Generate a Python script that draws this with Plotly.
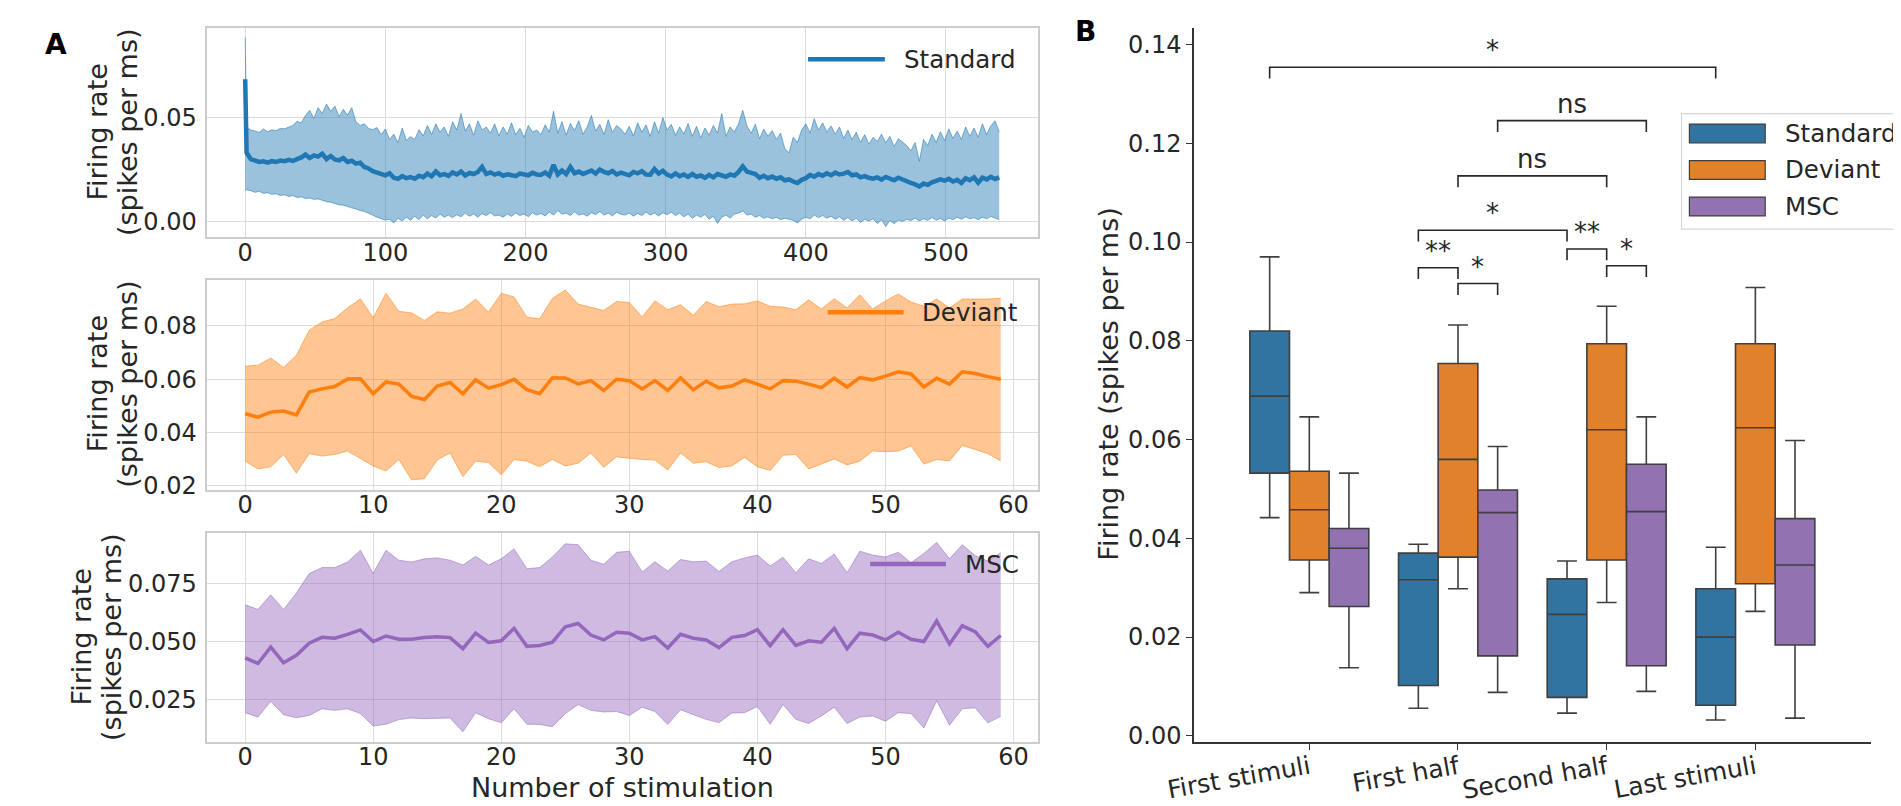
import plotly.graph_objects as go

W, H = 1901, 806

# ---------------- panel A: firing rate along the stimulation train ----------------
std_x = [0] + list(range(1, 540, 3))
std_mean = [0.0685,
    0.0330, 0.0300, 0.0292, 0.0286, 0.0289, 0.0283, 0.0290, 0.0286, 0.0293, 0.0290,
    0.0296, 0.0291, 0.0300, 0.0308, 0.0322, 0.0305, 0.0318, 0.0312, 0.0326, 0.0300,
    0.0315, 0.0298, 0.0294, 0.0305, 0.0286, 0.0292, 0.0278, 0.0283, 0.0262, 0.0255,
    0.0242, 0.0236, 0.0228, 0.0222, 0.0232, 0.0210, 0.0205, 0.0218, 0.0208, 0.0213,
    0.0205, 0.0220, 0.0213, 0.0230, 0.0217, 0.0240, 0.0222, 0.0228, 0.0219, 0.0236,
    0.0226, 0.0240, 0.0221, 0.0233, 0.0228, 0.0238, 0.0262, 0.0228, 0.0236, 0.0225,
    0.0232, 0.0220, 0.0227, 0.0222, 0.0218, 0.0230, 0.0225, 0.0222, 0.0234, 0.0226,
    0.0224, 0.0236, 0.0220, 0.0272, 0.0226, 0.0245, 0.0228, 0.0262, 0.0232, 0.0240,
    0.0228, 0.0236, 0.0245, 0.0230, 0.0250, 0.0238, 0.0232, 0.0243, 0.0226, 0.0235,
    0.0230, 0.0222, 0.0238, 0.0231, 0.0242, 0.0226, 0.0225, 0.0252, 0.0230, 0.0243,
    0.0225, 0.0216, 0.0231, 0.0218, 0.0226, 0.0214, 0.0228, 0.0215, 0.0221, 0.0210,
    0.0224, 0.0212, 0.0228, 0.0222, 0.0215, 0.0226, 0.0220, 0.0238, 0.0265, 0.0240,
    0.0232, 0.0228, 0.0210, 0.0220, 0.0208, 0.0216, 0.0205, 0.0212, 0.0198, 0.0202,
    0.0192, 0.0185, 0.0200, 0.0208, 0.0224, 0.0215, 0.0228, 0.0220, 0.0232, 0.0222,
    0.0235, 0.0226, 0.0230, 0.0238, 0.0222, 0.0226, 0.0212, 0.0218, 0.0210, 0.0206,
    0.0212, 0.0201, 0.0214, 0.0205, 0.0198, 0.0210, 0.0200, 0.0192, 0.0185, 0.0178,
    0.0168, 0.0182, 0.0176, 0.0188, 0.0195, 0.0202, 0.0196, 0.0205, 0.0192, 0.0200,
    0.0185, 0.0208, 0.0198, 0.0212, 0.0186, 0.0210, 0.0202, 0.0215, 0.0204, 0.0212]
std_upper = [0.0886,
    0.0456, 0.0440, 0.0436, 0.0428, 0.0445, 0.0432, 0.0441, 0.0437, 0.0448, 0.0446,
    0.0455, 0.0462, 0.0482, 0.0475, 0.0510, 0.0535, 0.0495, 0.0548, 0.0520, 0.0565,
    0.0530, 0.0555, 0.0505, 0.0540, 0.0512, 0.0548, 0.0480, 0.0462, 0.0470, 0.0448,
    0.0442, 0.0452, 0.0418, 0.0445, 0.0395, 0.0420, 0.0380, 0.0450, 0.0390, 0.0408,
    0.0395, 0.0442, 0.0412, 0.0462, 0.0418, 0.0470, 0.0430, 0.0455, 0.0410, 0.0480,
    0.0440, 0.0520, 0.0435, 0.0470, 0.0415, 0.0485, 0.0440, 0.0455, 0.0425, 0.0470,
    0.0412, 0.0455, 0.0420, 0.0475, 0.0418, 0.0448, 0.0405, 0.0462, 0.0430, 0.0440,
    0.0418, 0.0465, 0.0430, 0.0530, 0.0425, 0.0480, 0.0415, 0.0472, 0.0438, 0.0485,
    0.0420, 0.0455, 0.0510, 0.0435, 0.0468, 0.0418, 0.0490, 0.0428, 0.0462, 0.0445,
    0.0420, 0.0458, 0.0412, 0.0475, 0.0430, 0.0465, 0.0410, 0.0480, 0.0425, 0.0500,
    0.0440, 0.0468, 0.0415, 0.0455, 0.0420, 0.0472, 0.0410, 0.0458, 0.0402, 0.0450,
    0.0415, 0.0462, 0.0425, 0.0520, 0.0410, 0.0455, 0.0430, 0.0470, 0.0535, 0.0460,
    0.0425, 0.0468, 0.0398, 0.0445, 0.0410, 0.0438, 0.0395, 0.0425, 0.0350, 0.0330,
    0.0405, 0.0380, 0.0440, 0.0470, 0.0425, 0.0495, 0.0440, 0.0475, 0.0430, 0.0460,
    0.0420, 0.0455, 0.0400, 0.0440, 0.0395, 0.0430, 0.0380, 0.0418, 0.0372, 0.0405,
    0.0385, 0.0420, 0.0378, 0.0410, 0.0360, 0.0398, 0.0382, 0.0365, 0.0340, 0.0380,
    0.0290, 0.0395, 0.0365, 0.0420, 0.0380, 0.0432, 0.0390, 0.0445, 0.0400, 0.0435,
    0.0395, 0.0455, 0.0410, 0.0450, 0.0405, 0.0470, 0.0418, 0.0460, 0.0485, 0.0430]
std_lower = [0.0150,
    0.0152, 0.0148, 0.0140, 0.0145, 0.0135, 0.0138, 0.0130, 0.0133, 0.0125, 0.0128,
    0.0120, 0.0124, 0.0115, 0.0118, 0.0110, 0.0112, 0.0106, 0.0108, 0.0100, 0.0095,
    0.0092, 0.0085, 0.0080, 0.0078, 0.0070, 0.0065, 0.0060, 0.0052, 0.0048, 0.0040,
    0.0030, 0.0020, 0.0012, 0.0006, 0.0010, -0.0008, 0.0015, 0.0002, 0.0020, 0.0005,
    0.0025, 0.0008, 0.0030, 0.0012, 0.0028, 0.0016, 0.0035, 0.0020, 0.0030, 0.0018,
    0.0032, 0.0022, 0.0040, 0.0025, 0.0035, 0.0020, 0.0038, 0.0028, 0.0042, 0.0026,
    0.0030, 0.0020, 0.0035, 0.0024, 0.0040, 0.0028, 0.0036, 0.0022, 0.0042, 0.0030,
    0.0038, 0.0026, 0.0045, 0.0030, 0.0052, 0.0035, 0.0040, 0.0028, 0.0046, 0.0030,
    0.0036, 0.0025, 0.0042, 0.0032, 0.0048, 0.0030, 0.0040, 0.0026, 0.0044, 0.0034,
    0.0030, 0.0040, 0.0025, 0.0038, 0.0028, 0.0045, 0.0030, 0.0040, 0.0026, 0.0042,
    0.0032, 0.0045, 0.0028, 0.0040, 0.0022, 0.0035, 0.0015, 0.0030, 0.0020, 0.0034,
    0.0010, 0.0025, -0.0010, 0.0020, 0.0030, 0.0015, 0.0035, 0.0040, 0.0050, 0.0030,
    0.0035, 0.0020, 0.0028, 0.0015, 0.0022, 0.0012, 0.0020, 0.0008, 0.0015, 0.0010,
    0.0005, -0.0008, 0.0010, 0.0020, 0.0012, 0.0030, 0.0018, 0.0028, 0.0015, 0.0025,
    0.0010, 0.0022, 0.0005, 0.0018, 0.0002, 0.0015, -0.0005, 0.0010, 0.0002, 0.0012,
    -0.0010, 0.0008, -0.0025, 0.0005, -0.0012, 0.0006, 0.0000, 0.0010, 0.0004, 0.0015,
    0.0002, 0.0012, 0.0005, 0.0018, 0.0006, 0.0014, 0.0002, 0.0016, 0.0008, 0.0020,
    0.0010, 0.0022, 0.0012, 0.0018, 0.0008, 0.0020, 0.0012, 0.0024, 0.0015, 0.0008]

stim_x = list(range(60))
dev_mean = [0.0471, 0.0458, 0.0477, 0.0481, 0.0466, 0.0552, 0.0564, 0.0573, 0.0601, 0.0602,
    0.0546, 0.0590, 0.0582, 0.0536, 0.0524, 0.0575, 0.0588, 0.0546, 0.0598, 0.0567,
    0.0580, 0.0600, 0.0561, 0.0546, 0.0606, 0.0605, 0.0583, 0.0595, 0.0558, 0.0600,
    0.0595, 0.0564, 0.0595, 0.0558, 0.0605, 0.0561, 0.0593, 0.0568, 0.0575, 0.0598,
    0.0582, 0.0564, 0.0595, 0.0593, 0.0582, 0.0569, 0.0604, 0.0571, 0.0606, 0.0598,
    0.0612, 0.0628, 0.0620, 0.0571, 0.0604, 0.0582, 0.0628, 0.0622, 0.0610, 0.0600]
dev_upper = [0.0649, 0.0653, 0.0680, 0.0644, 0.0690, 0.0784, 0.0815, 0.0828, 0.0868, 0.0902,
    0.0831, 0.0923, 0.0855, 0.0849, 0.0821, 0.0853, 0.0848, 0.0864, 0.0901, 0.0852,
    0.0923, 0.0909, 0.0833, 0.0827, 0.0904, 0.0935, 0.0882, 0.0870, 0.0858, 0.0892,
    0.0888, 0.0834, 0.0894, 0.0861, 0.0880, 0.0840, 0.0892, 0.0872, 0.0882, 0.0883,
    0.0894, 0.0874, 0.0871, 0.0861, 0.0898, 0.0864, 0.0902, 0.0868, 0.0917, 0.0864,
    0.0894, 0.0920, 0.0890, 0.0874, 0.0901, 0.0868, 0.0901, 0.0901, 0.0901, 0.0904]
dev_lower = [0.0293, 0.0264, 0.0272, 0.0318, 0.0248, 0.0321, 0.0312, 0.0318, 0.0331, 0.0303,
    0.0275, 0.0256, 0.0299, 0.0223, 0.0227, 0.0297, 0.0324, 0.0235, 0.0293, 0.0288,
    0.0242, 0.0299, 0.0293, 0.0272, 0.0299, 0.0275, 0.0285, 0.0324, 0.0270, 0.0309,
    0.0303, 0.0299, 0.0297, 0.0260, 0.0324, 0.0285, 0.0291, 0.0269, 0.0275, 0.0307,
    0.0272, 0.0258, 0.0315, 0.0318, 0.0264, 0.0282, 0.0301, 0.0279, 0.0293, 0.0331,
    0.0328, 0.0331, 0.0350, 0.0282, 0.0299, 0.0294, 0.0352, 0.0337, 0.0321, 0.0294]

msc_mean = [0.0429, 0.0405, 0.0476, 0.0408, 0.0440, 0.0493, 0.0518, 0.0514, 0.0531, 0.0550,
    0.0500, 0.0524, 0.0510, 0.0510, 0.0517, 0.0521, 0.0517, 0.0469, 0.0536, 0.0496,
    0.0503, 0.0557, 0.0479, 0.0483, 0.0497, 0.0564, 0.0578, 0.0528, 0.0507, 0.0540,
    0.0536, 0.0507, 0.0521, 0.0472, 0.0531, 0.0514, 0.0507, 0.0474, 0.0518, 0.0526,
    0.0551, 0.0482, 0.0551, 0.0483, 0.0503, 0.0497, 0.0557, 0.0469, 0.0536, 0.0528,
    0.0507, 0.0540, 0.0510, 0.0500, 0.0589, 0.0489, 0.0568, 0.0543, 0.0479, 0.0526]
msc_upper = [0.0659, 0.0639, 0.0702, 0.0639, 0.0710, 0.0794, 0.0820, 0.0820, 0.0844, 0.0895,
    0.0795, 0.0895, 0.0852, 0.0844, 0.0858, 0.0862, 0.0852, 0.0831, 0.0869, 0.0831,
    0.0858, 0.0901, 0.0815, 0.0820, 0.0866, 0.0923, 0.0919, 0.0852, 0.0834, 0.0886,
    0.0891, 0.0801, 0.0845, 0.0805, 0.0855, 0.0845, 0.0848, 0.0803, 0.0845, 0.0862,
    0.0874, 0.0827, 0.0865, 0.0798, 0.0858, 0.0838, 0.0879, 0.0798, 0.0891, 0.0874,
    0.0866, 0.0886, 0.0841, 0.0881, 0.0929, 0.0858, 0.0919, 0.0872, 0.0848, 0.0884]
msc_lower = [0.0192, 0.0173, 0.0241, 0.0183, 0.0170, 0.0180, 0.0209, 0.0202, 0.0209, 0.0188,
    0.0134, 0.0142, 0.0162, 0.0169, 0.0166, 0.0166, 0.0169, 0.0109, 0.0192, 0.0166,
    0.0148, 0.0209, 0.0142, 0.0141, 0.0131, 0.0188, 0.0227, 0.0202, 0.0195, 0.0197,
    0.0180, 0.0216, 0.0197, 0.0141, 0.0205, 0.0183, 0.0163, 0.0149, 0.0190, 0.0192,
    0.0219, 0.0142, 0.0227, 0.0163, 0.0145, 0.0178, 0.0216, 0.0145, 0.0173, 0.0178,
    0.0155, 0.0192, 0.0188, 0.0126, 0.0244, 0.0138, 0.0209, 0.0213, 0.0148, 0.0176]

# ---------------- panel B: box summaries per period ----------------
periods = ["First stimuli", "First half", "Second half", "Last stimuli"]
groups = ["Standard", "Deviant", "MSC"]

standard_lo = [0.0442, 0.0056, 0.0046, 0.0032]
standard_q1 = [0.0532, 0.0102, 0.0078, 0.0062]
standard_med = [0.0688, 0.0316, 0.0246, 0.0200]
standard_q3 = [0.0820, 0.0370, 0.0318, 0.0298]
standard_hi = [0.0970, 0.0388, 0.0354, 0.0382]

deviant_lo = [0.0290, 0.0298, 0.0270, 0.0252]
deviant_q1 = [0.0356, 0.0362, 0.0356, 0.0308]
deviant_med = [0.0458, 0.0560, 0.0620, 0.0624]
deviant_q3 = [0.0536, 0.0754, 0.0794, 0.0794]
deviant_hi = [0.0646, 0.0832, 0.0870, 0.0908]

msc_lo = [0.0138, 0.0088, 0.0090, 0.0036]
msc_q1 = [0.0262, 0.0162, 0.0142, 0.0184]
msc_med = [0.0380, 0.0452, 0.0454, 0.0346]
msc_q3 = [0.0420, 0.0498, 0.0550, 0.0440]
msc_hi = [0.0532, 0.0586, 0.0646, 0.0598]

# significance brackets: (period, group) vs (period, group), label
sig_from = [("First stimuli", "Standard"), ("First half", "MSC"), ("First half", "Deviant"),
            ("First half", "Standard"), ("First half", "Standard"), ("First half", "Deviant"),
            ("Second half", "Standard"), ("Second half", "Deviant")]
sig_to = [("Last stimuli", "Standard"), ("Second half", "MSC"), ("Second half", "Deviant"),
          ("Second half", "Standard"), ("First half", "Deviant"), ("First half", "MSC"),
          ("Second half", "Deviant"), ("Second half", "MSC")]
sig_text = ["*", "ns", "ns", "*", "**", "*", "**", "*"]
sig_level = [0.1354, 0.1246, 0.1134, 0.1024, 0.0948, 0.0916, 0.0986, 0.0952]

# ---------------- style ----------------
FONT = "DejaVu Sans"
INK = "#262626"
GRID = "#dcdcdc"
FRAME = "#cccccc"
line_col = {"Standard": "#1f77b4", "Deviant": "#ff7f0e", "MSC": "#9467bd"}
band_col = {"Standard": "rgba(31,119,180,0.45)", "Deviant": "rgba(255,127,14,0.45)",
            "MSC": "rgba(148,103,189,0.45)"}
edge_col = {"Standard": "rgba(31,119,180,0.55)", "Deviant": "rgba(255,127,14,0.5)",
            "MSC": "rgba(148,103,189,0.5)"}
box_col = {"Standard": "#3274a1", "Deviant": "#e1812c", "MSC": "#9372b2"}
BOX_EDGE = "#3f3f3f"
TITLE_SIZE = 27


def px(x):
    return x / W


def py(y):
    return 1 - y / H


fig = go.Figure()

series_a = [
    ("Standard", std_x, std_mean, std_upper, std_lower, "x", "y", 4.5),
    ("Deviant", stim_x, dev_mean, dev_upper, dev_lower, "x2", "y2", 3.5),
    ("MSC", stim_x, msc_mean, msc_upper, msc_lower, "x3", "y3", 3.5),
]
for name, xs, mean, upper, lower, xa, ya, lw in series_a:
    fig.add_trace(go.Scatter(x=xs, y=lower, mode="lines", xaxis=xa, yaxis=ya,
                             line=dict(color=edge_col[name], width=1), hoverinfo="skip"))
    fig.add_trace(go.Scatter(x=xs, y=upper, mode="lines", xaxis=xa, yaxis=ya, fill="tonexty",
                             fillcolor=band_col[name], line=dict(color=edge_col[name], width=1),
                             hoverinfo="skip"))
    fig.add_trace(go.Scatter(x=xs, y=mean, mode="lines", xaxis=xa, yaxis=ya, name=name,
                             line=dict(color=line_col[name], width=lw)))

box_stats = {
    "Standard": (standard_lo, standard_q1, standard_med, standard_q3, standard_hi),
    "Deviant": (deviant_lo, deviant_q1, deviant_med, deviant_q3, deviant_hi),
    "MSC": (msc_lo, msc_q1, msc_med, msc_q3, msc_hi),
}
for g in groups:
    lo, q1, med, q3, hi = box_stats[g]
    fig.add_trace(go.Box(x=periods, lowerfence=lo, q1=q1, median=med, q3=q3, upperfence=hi,
                         name=g, xaxis="x4", yaxis="y4", fillcolor=box_col[g],
                         line=dict(color=BOX_EDGE, width=1.6), whiskerwidth=0.5,
                         boxpoints=False, hoverinfo="skip"))

# bracket geometry from box positions (group boxes share 0.8 of a category)
box_w = 0.8 / len(groups)


def box_pos(period, group):
    return periods.index(period) + (groups.index(group) - 1) * box_w


shapes = []
annotations = []
tip = 0.0023
for (p1, g1), (p2, g2), label, lev in zip(sig_from, sig_to, sig_text, sig_level):
    x1, x2 = box_pos(p1, g1), box_pos(p2, g2)
    shapes.append(dict(type="path", xref="x4", yref="y4",
                       path=f"M {x1},{lev - tip} L {x1},{lev} L {x2},{lev} L {x2},{lev - tip}",
                       line=dict(color=INK, width=1.6)))
    annotations.append(dict(x=(x1 + x2) / 2, y=lev, xref="x4", yref="y4", text=label,
                            showarrow=False, xanchor="center", yanchor="bottom", yshift=0,
                            font=dict(family=FONT, size=26, color=INK)))


def note(x, y, text, size=24, angle=0, xa="center", ya="middle", color=INK):
    annotations.append(dict(x=px(x), y=py(y), xref="paper", yref="paper", text=text,
                            textangle=angle, showarrow=False, xanchor=xa, yanchor=ya,
                            font=dict(family=FONT, size=size, color=color)))


# legends of panel A (line + label, no frame)
legend_a = [("Standard", 783, 861, 52), ("Deviant", 803, 880, 308), ("MSC", 846, 923, 563)]
for name, x0, x1, yy in legend_a:
    shapes.append(dict(type="line", xref="paper", yref="paper", x0=px(x0), x1=px(x1),
                       y0=py(yy), y1=py(yy), line=dict(color=line_col[name], width=4.5)))
    note(x1 + 17, yy, name, size=24.5, xa="left")

# legend of panel B
shapes.append(dict(type="rect", xref="paper", yref="paper", x0=px(1670), x1=px(1898),
                   y0=py(224), y1=py(107), line=dict(color="#d6d6d6", width=1.2),
                   fillcolor="rgba(255,255,255,0.8)"))
for i, g in enumerate(groups):
    yc = 127 + i * 37
    shapes.append(dict(type="rect", xref="paper", yref="paper", x0=px(1678), x1=px(1755),
                       y0=py(yc + 9.5), y1=py(yc - 9.5), fillcolor=box_col[g],
                       line=dict(color=BOX_EDGE, width=1.2)))
    note(1773, yc, g, size=24.5, xa="left")

# axis titles (two-line titles of panel A written as two rows) and panel letters
for x_first, x_second, yc in ((61, 92, 126), (61, 92, 381), (45, 75, 637)):
    note(x_first, yc, "Firing rate", size=TITLE_SIZE, angle=-90)
    note(x_second, yc, "(spikes per ms)", size=TITLE_SIZE, angle=-90)
note(595, 789, "Number of stimulation", size=TITLE_SIZE)
note(1088, 381, "Firing rate (spikes per ms)", size=TITLE_SIZE, angle=-90)
note(19, 37, "<b>A</b>", size=28, color="black")
note(1065, 24, "<b>B</b>", size=28, color="black")

tickfont = dict(family=FONT, size=24, color=INK)


def a_axis(**kw):
    d = dict(showline=True, mirror=True, linecolor=FRAME, linewidth=1.5, showgrid=True,
             gridcolor=GRID, gridwidth=1.2, zeroline=False, ticks="", tickfont=tickfont)
    d.update(kw)
    return d


xdom_a = [px(173), px(1017)]
XSO, YSO = -7, 4
fig.update_layout(
    width=W, height=H, autosize=False, margin=dict(l=0, r=0, t=0, b=0),
    paper_bgcolor="white", plot_bgcolor="white", showlegend=False,
    boxmode="group", boxgap=0.2, boxgroupgap=0,
    xaxis=a_axis(domain=xdom_a, anchor="y", range=[-27, 566],
                 tickvals=[0, 100, 200, 300, 400, 500], ticklabelstandoff=XSO),
    yaxis=a_axis(domain=[py(232), py(20)], anchor="x", range=[-0.0076, 0.0933],
                 tickvals=[0, 0.05], tickformat=".2f", ticklabelstandoff=YSO),
    xaxis2=a_axis(domain=xdom_a, anchor="y2", range=[-2.95, 61.95],
                  tickvals=[0, 10, 20, 30, 40, 50, 60], ticklabelstandoff=XSO),
    yaxis2=a_axis(domain=[py(488), py(275)], anchor="x2", range=[0.0185, 0.0974],
                  tickvals=[0.02, 0.04, 0.06, 0.08], tickformat=".2f", ticklabelstandoff=YSO),
    xaxis3=a_axis(domain=xdom_a, anchor="y3", range=[-2.95, 61.95],
                  tickvals=[0, 10, 20, 30, 40, 50, 60], ticklabelstandoff=XSO),
    yaxis3=a_axis(domain=[py(743), py(532)], anchor="x3", range=[0.0066, 0.0968],
                  tickvals=[0.025, 0.05, 0.075], tickformat=".3f", ticklabelstandoff=YSO),
    xaxis4=dict(domain=[px(1175), px(1862)], anchor="y4", type="category",
                categoryorder="array", categoryarray=periods, range=[-0.775, 3.775],
                showline=True, linecolor="#333333", linewidth=1.6, ticks="outside",
                ticklen=6, tickwidth=1.4, tickcolor="#333333", showgrid=False,
                zeroline=False, tickangle=-10, ticklabelstandoff=-6,
                tickfont=dict(family=FONT, size=25, color=INK)),
    yaxis4=dict(domain=[py(743), py(20)], anchor="x4", range=[-0.0012, 0.1434],
                tickvals=[0, 0.02, 0.04, 0.06, 0.08, 0.10, 0.12, 0.14], tickformat=".2f",
                showline=True, linecolor="#333333", linewidth=1.6, ticks="outside",
                ticklen=6, tickwidth=1.4, tickcolor="#333333", showgrid=False,
                zeroline=False, tickfont=tickfont),
    shapes=shapes, annotations=annotations,
)

fig.write_html("out.html")
